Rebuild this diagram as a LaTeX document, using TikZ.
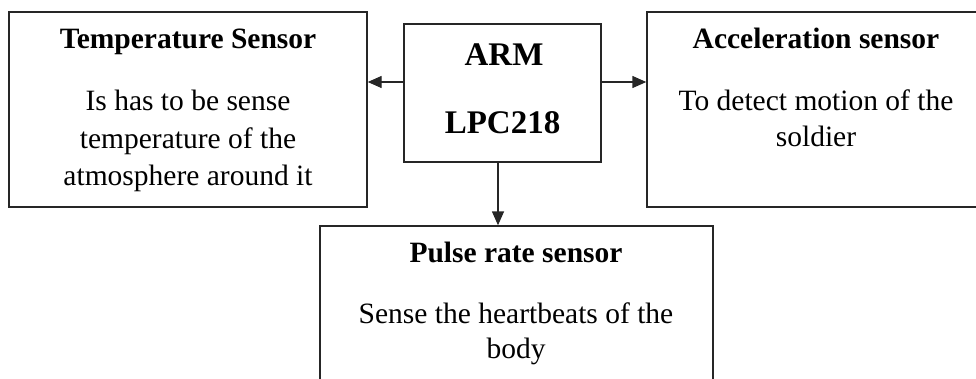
\documentclass[tikz,border=0pt]{standalone}
\usepackage{fontspec}
\setmainfont{Liberation Serif}
\usetikzlibrary{arrows.meta}
\begin{document}
\begin{tikzpicture}[x=1pt,y=-1pt,
  box/.style={draw=black!85,line width=1.4pt,minimum width=#1,inner sep=0pt},
  ttl/.style={anchor=base,font=\fontsize{29.5}{35}\selectfont\bfseries,inner sep=0pt},
  body/.style={anchor=base,font=\fontsize{29.5}{35}\selectfont,inner sep=0pt},
  armtxt/.style={anchor=base,font=\fontsize{33}{40}\selectfont\bfseries,inner sep=0pt},
  arr/.style={line width=1.4pt,draw=black!85,-{Triangle[length=14pt,width=12pt]}}]
\useasboundingbox (0,0) rectangle (976,378);
\clip (0,0) rectangle (976,378);
% boxes
\node[box=358pt,minimum height=195pt] (temp) at (188,109.5) {};
\node[box=197pt,minimum height=138pt] (arm) at (502.5,93) {};
\node[box=338pt,minimum height=195pt] (acc) at (816,109.5) {};
\node[box=393pt,minimum height=194pt] (pulse) at (516.5,323) {};
% texts
\node[ttl] (t1) at (188,48.3) {Temperature Sensor};
\node[body] (t2) at (188,110) {Is has to be sense};
\node[body] (t3) at (188,148.3) {temperature of the};
\node[body] (t4) at (188,185.7) {atmosphere around it};
\node[armtxt] (a1) at (504,65) {ARM};
\node[armtxt] (a2) at (502.5,133.3) {LPC218};
\node[ttl] (c1) at (816,48.3) {Acceleration sensor};
\node[body] (c2) at (816,110) {To detect motion of the};
\node[body] (c3) at (816,146.7) {soldier};
\node[ttl] (p1) at (516,262.3) {Pulse rate sensor};
\node[body] (p2) at (516,323.3) {Sense the heartbeats of the};
\node[body] (p3) at (516,358) {body};
% arrows
\draw[arr] ([yshift=11pt]arm.west) -- ([yshift=11pt]arm.west -| temp.east);
\draw[arr] ([yshift=11pt]arm.east) -- ([yshift=11pt]arm.east -| acc.west);
\draw[arr] ([xshift=-4.5pt]arm.south) -- ([xshift=-4.5pt]arm.south |- pulse.north);
\end{tikzpicture}
\end{document}
